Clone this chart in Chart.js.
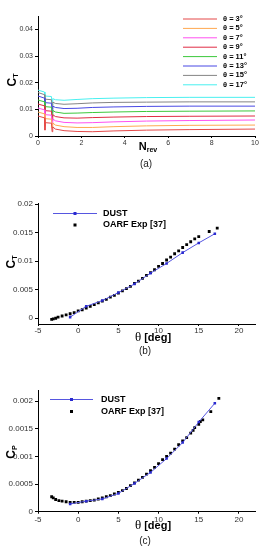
<!DOCTYPE html>
<html>
<head>
<meta charset="utf-8">
<script src="https://cdn.jsdelivr.net/npm/chart.js@4.4.1/dist/chart.umd.min.js"></script>
<style>
body{margin:0;background:#fff;width:264px;height:550px;position:relative;overflow:hidden;font-family:"Liberation Sans",Arial,sans-serif}
canvas{position:absolute;left:0}
.t{position:absolute;white-space:nowrap;font-weight:bold;color:#000;transform:translate(-50%,-50%);line-height:1}
.rot{transform:translate(-50%,-50%) rotate(-90deg)}
.t sub{font-size:7px;vertical-align:-2px}
.th{font-family:"Liberation Serif",serif;font-weight:normal;font-size:13px}
.cap{position:absolute;white-space:nowrap;color:#222;font-size:10px;transform:translate(-50%,-50%)}
</style>
</head>
<body>
<canvas id="chartA" width="264" height="150" style="top:0"></canvas>
<canvas id="chartB" width="264" height="150" style="top:190px"></canvas>
<canvas id="chartC" width="264" height="150" style="top:376px"></canvas>

<div class="t rot" style="left:12px;top:80px;font-size:12px">C<sub>T</sub></div>
<div class="t" style="left:148px;top:147px;font-size:11px">N<sub>rev</sub></div>
<div class="cap" style="left:146px;top:163px">(a)</div>

<div class="t rot" style="left:11px;top:262px;font-size:12px">C<sub>T</sub></div>
<div class="t" style="left:153px;top:336px;font-size:11px"><span class="th">θ</span> [deg]</div>
<div class="cap" style="left:145px;top:350px">(b)</div>

<div class="t rot" style="left:11px;top:452px;font-size:12px">C<sub>P</sub></div>
<div class="t" style="left:153px;top:524px;font-size:11px"><span class="th">θ</span> [deg]</div>
<div class="cap" style="left:145px;top:540px">(c)</div>

<script>
// (a) thrust coefficient history vs revolutions
const nRev = [0, 0.3, 0.32, 0.34, 0.62, 0.65, 0.68, 0.8, 1.2, 1.8, 2.5, 3.5, 5, 7, 10];
const pitchLabels = ['θ = 3°', 'θ = 5°', 'θ = 7°', 'θ = 9°', 'θ = 11°', 'θ = 13°', 'θ = 15°', 'θ = 17°'];
const ct3  = [0.0075, 0.0068, 0.0022, 0.0050, 0.0048, 0.0016, 0.0034, 0.0026, 0.0020, 0.0017, 0.0016, 0.0019, 0.0022, 0.0024, 0.0026];
const ct5  = [0.0090, 0.0083, 0.0036, 0.0065, 0.0063, 0.0030, 0.0049, 0.0041, 0.0035, 0.0032, 0.0032, 0.0035, 0.0038, 0.0040, 0.0041];
const ct7  = [0.0105, 0.0098, 0.0050, 0.0080, 0.0078, 0.0043, 0.0064, 0.0057, 0.0051, 0.0049, 0.0050, 0.0053, 0.0056, 0.0058, 0.0060];
const ct9  = [0.0120, 0.0113, 0.0065, 0.0095, 0.0093, 0.0058, 0.0080, 0.0073, 0.0068, 0.0067, 0.0069, 0.0071, 0.0073, 0.0074, 0.0075];
const ct11 = [0.0135, 0.0128, 0.0080, 0.0110, 0.0108, 0.0073, 0.0096, 0.0090, 0.0085, 0.0086, 0.0088, 0.0090, 0.0092, 0.0093, 0.0094];
const ct13 = [0.0150, 0.0142, 0.0095, 0.0125, 0.0123, 0.0088, 0.0112, 0.0107, 0.0103, 0.0104, 0.0107, 0.0109, 0.0111, 0.0112, 0.0112];
const ct15 = [0.0163, 0.0155, 0.0108, 0.0138, 0.0136, 0.0102, 0.0127, 0.0122, 0.0119, 0.0121, 0.0124, 0.0126, 0.0127, 0.0128, 0.0128];
const ct17 = [0.0172, 0.0165, 0.0120, 0.0150, 0.0148, 0.0115, 0.0140, 0.0136, 0.0134, 0.0137, 0.0140, 0.0142, 0.0144, 0.0145, 0.0145];
const ctRuns = [ct3, ct5, ct7, ct9, ct11, ct13, ct15, ct17];
const runColors = ['#e44848', '#ffa850', '#ff50f0', '#e02c44', '#3cc83c', '#4848e4', '#848484', '#48f0f0'];

// (b), (c) DUST vs OARF experiment
const dustTheta = [-1, 1, 3, 5, 7, 9, 11, 13, 15, 17];
const dustCT = [0.0002, 0.0021, 0.0031, 0.0045, 0.0060, 0.0079, 0.0096, 0.0115, 0.0132, 0.0148];
const dustCP = [0.00014, 0.00019, 0.00023, 0.00033, 0.00051, 0.00071, 0.00096, 0.00125, 0.00162, 0.00196];

const expThetaCT = [-3.3, -3.1, -2.8, -2.5, -2, -1.5, -1, -0.5, 0, 0.5, 1, 1.5, 2, 2.5, 3, 3.5, 4, 4.5, 5, 5.5, 6, 6.5, 7, 7.5, 8, 8.5, 9, 9.5, 10, 10.5, 11, 11.5, 12, 12.5, 13, 13.5, 14, 14.5, 15, 16.3, 17.3];
const expCT = [-0.0002, -0.0001, 0.0000, 0.0002, 0.0004, 0.0006, 0.0008, 0.0010, 0.0013, 0.0015, 0.0018, 0.0021, 0.0024, 0.0027, 0.0030, 0.0033, 0.0037, 0.0040, 0.0044, 0.0048, 0.0052, 0.0056, 0.0061, 0.0065, 0.0070, 0.0075, 0.0080, 0.0085, 0.0091, 0.0096, 0.0102, 0.0107, 0.0113, 0.0118, 0.0124, 0.0129, 0.0134, 0.0139, 0.0143, 0.0152, 0.0158];
const expThetaCP = [-3.3, -3.1, -2.8, -2.4, -2, -1.5, -1, -0.5, 0, 0.5, 1, 1.5, 2, 2.5, 3, 3.5, 4, 4.5, 5, 5.5, 6, 6.5, 7, 7.5, 8, 8.5, 9, 9.5, 10, 10.5, 11, 11.5, 12, 12.5, 13, 13.5, 14, 14.3, 14.5, 15, 15.2, 15.5, 16.5, 17.5];
const expCP = [0.00027, 0.00025, 0.00022, 0.00020, 0.00019, 0.00018, 0.00017, 0.00017, 0.00017, 0.00018, 0.00019, 0.00020, 0.00021, 0.00023, 0.00025, 0.00027, 0.00029, 0.00032, 0.00035, 0.00038, 0.00042, 0.00047, 0.00052, 0.00057, 0.00062, 0.00068, 0.00074, 0.00080, 0.00087, 0.00094, 0.00100, 0.00106, 0.00113, 0.00121, 0.00128, 0.00134, 0.00142, 0.00147, 0.00152, 0.00158, 0.00163, 0.00166, 0.00181, 0.00205];

function pts(xs, ys) {
	return xs.map((x, i) => ({x: x, y: ys[i]}));
}

// legend drawn at fixed spot inside the plot
const lineLegend = {
	id: 'lineLegend',
	afterDraw(chart, args, o) {
		const ctx = chart.ctx;
		ctx.save();
		ctx.font = o.font;
		ctx.textBaseline = 'middle';
		chart.data.datasets.forEach(function(ds, i) {
			const y = o.y + i * o.dy;
			if (ds.showLine) {
				ctx.strokeStyle = ds.borderColor;
				ctx.lineWidth = ds.borderWidth || 1;
				ctx.beginPath();
				ctx.moveTo(o.x0, y);
				ctx.lineTo(o.x1, y);
				ctx.stroke();
			}
			if (ds.pointRadius > 0) {
				const m = (o.x0 + o.x1) / 2;
				ctx.fillStyle = ds.pointBackgroundColor;
				ctx.fillRect(m - 1.5, y - 1.5, 3, 3);
			}
			ctx.fillStyle = '#000';
			ctx.fillText(ds.label, o.tx, y);
		});
		ctx.restore();
	}
};

// plain numbers on ticks: 0.01 not 0.010
function plain(v) {
	return String(parseFloat(v.toFixed(6)));
}

function axes(xmin, xmax, xstep, ymin, ymax, ystep, fsize, xh, xpad) {
	const tickFont = {family: '"Liberation Sans", Arial, sans-serif', size: fsize};
	return {
		x: {
			type: 'linear', min: xmin, max: xmax,
			ticks: {stepSize: xstep, includeBounds: false, color: '#333', font: tickFont, padding: xpad, maxRotation: 0, callback: plain},
			grid: {drawOnChartArea: false, tickLength: 2, color: '#000'},
			border: {color: '#000', width: 1},
			afterFit: function(s) { s.height = xh; s.paddingLeft = 0; s.paddingRight = 0; }
		},
		y: {
			type: 'linear', min: ymin, max: ymax,
			ticks: {stepSize: ystep, includeBounds: false, color: '#333', font: tickFont, padding: 2, callback: plain},
			grid: {drawOnChartArea: false, tickLength: 3, color: '#000'},
			border: {color: '#000', width: 1},
			afterFit: function(s) { s.width = 38; s.paddingTop = 0; s.paddingBottom = 0; }
		}
	};
}

const baseOpts = {
	responsive: false,
	animation: false,
	plugins: {legend: {display: false}, tooltip: {enabled: false}}
};

new Chart(document.getElementById('chartA'), {
	type: 'scatter',
	data: {
		datasets: ctRuns.map(function(run, i) {
			return {
				label: pitchLabels[i], data: pts(nRev, run), showLine: true,
				borderColor: runColors[i], borderWidth: 1, pointRadius: 0, tension: 0
			};
		})
	},
	options: Object.assign({}, baseOpts, {
		layout: {padding: {top: 16, right: 9, left: 0, bottom: 0}},
		scales: axes(0, 10, 2, 0, 0.045, 0.01, 7, 14, 1),
		plugins: Object.assign({}, baseOpts.plugins, {
			lineLegend: {x0: 183, x1: 217, tx: 223, y: 19, dy: 9.4, font: 'bold 7.5px "Liberation Sans", Arial, sans-serif'}
		})
	}),
	plugins: [lineLegend]
});

function compareChart(id, expX, expY, dustY, ymin, ymax, ystep, top, xh, xpad, leg) {
	new Chart(document.getElementById(id), {
		type: 'scatter',
		data: {
			datasets: [{
				label: 'DUST', data: pts(dustTheta, dustY), showLine: true,
				borderColor: '#5656e0', borderWidth: 1,
				pointStyle: 'rect', pointRadius: 1.8, pointBackgroundColor: '#2a2ad0', pointBorderWidth: 0
			}, {
				label: 'OARF Exp [37]', data: pts(expX, expY), showLine: false,
				pointStyle: 'rect', pointRadius: 2, pointBackgroundColor: '#000', pointBorderWidth: 0
			}]
		},
		options: Object.assign({}, baseOpts, {
			layout: {padding: {top: top, right: 9, left: 0, bottom: 0}},
			scales: axes(-5, 22, 5, ymin, ymax, ystep, 8, xh, xpad),
			plugins: Object.assign({}, baseOpts.plugins, {lineLegend: leg})
		}),
		plugins: [lineLegend]
	});
}

compareChart('chartB', expThetaCT, expCT, dustCT, -0.001, 0.0201, 0.005, 13.5, 16, 0,
	{x0: 53, x1: 97, tx: 103, y: 23.5, dy: 11.5, font: 'bold 9px "Liberation Sans", Arial, sans-serif'});
compareChart('chartC', expThetaCP, expCP, dustCP, 0, 0.0022, 0.0005, 14, 14.3, 1,
	{x0: 50, x1: 93, tx: 101, y: 23.5, dy: 12, font: 'bold 9px "Liberation Sans", Arial, sans-serif'});
</script>
</body>
</html>
